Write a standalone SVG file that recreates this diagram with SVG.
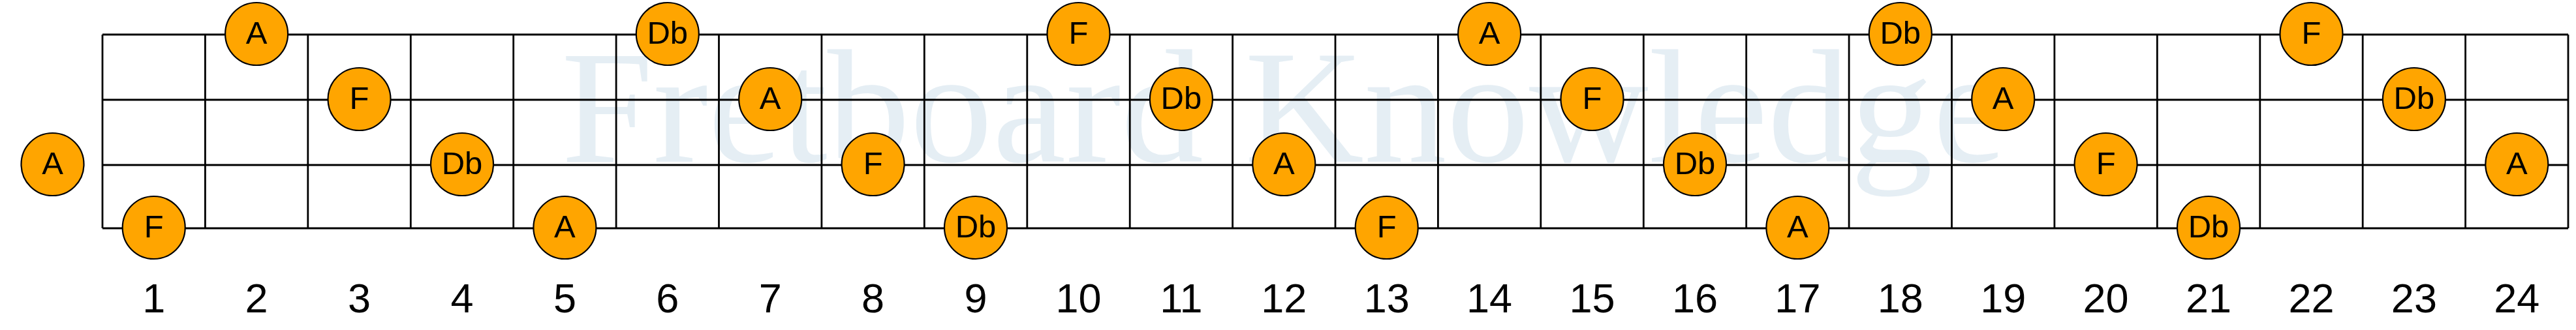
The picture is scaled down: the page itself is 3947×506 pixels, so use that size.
<svg xmlns="http://www.w3.org/2000/svg" width="3947" height="506" viewBox="0 0 3947 506">
<style>
.wm{font-family:"Liberation Serif","Times New Roman",serif;font-size:247px;fill:#e5eef4}
.ln{stroke:#000;stroke-width:2.8;fill:none}
.nc{fill:#ffa500;stroke:#000;stroke-width:2.2}
.nt{font-family:"Liberation Sans",Arial,sans-serif;font-size:49px;fill:#000;text-anchor:middle}
.fn{font-family:"Liberation Sans",Arial,sans-serif;font-size:63px;fill:#000;text-anchor:middle}
</style>
<rect width="3947" height="506" fill="#fff"/>
<text class="wm" x="860" y="248" textLength="2214" lengthAdjust="spacingAndGlyphs">Fretboard Knowledge</text>
<g id="connectors">
<path class="ln" d="M157 53H3935M157 153H3935M157 253H3935M157 350H3935"/>
<path class="ln" d="M157 53V350M314.4 53V350M471.8 53V350M629.3 53V350M786.7 53V350M944.1 53V350M1101.5 53V350M1258.9 53V350M1416.3 53V350M1573.8 53V350M1731.2 53V350M1888.6 53V350M2046 53V350M2203.4 53V350M2360.8 53V350M2518.3 53V350M2675.7 53V350M2833.1 53V350M2990.5 53V350M3147.9 53V350M3305.3 53V350M3462.8 53V350M3620.2 53V350M3777.6 53V350M3935 53V350"/>
</g>
<g id="n-open-A"><circle class="nc" cx="80.5" cy="252" r="48"/><text class="nt" x="80.5" y="267">A</text></g>
<g id="n-s1-2"><circle class="nc" cx="393.1" cy="52" r="48"/><text class="nt" x="393.1" y="67">A</text></g>
<g id="n-s1-6"><circle class="nc" cx="1022.8" cy="52" r="48"/><text class="nt" x="1022.8" y="67">Db</text></g>
<g id="n-s1-10"><circle class="nc" cx="1652.5" cy="52" r="48"/><text class="nt" x="1652.5" y="67">F</text></g>
<g id="n-s1-14"><circle class="nc" cx="2282.1" cy="52" r="48"/><text class="nt" x="2282.1" y="67">A</text></g>
<g id="n-s1-18"><circle class="nc" cx="2911.8" cy="52" r="48"/><text class="nt" x="2911.8" y="67">Db</text></g>
<g id="n-s1-22"><circle class="nc" cx="3541.5" cy="52" r="48"/><text class="nt" x="3541.5" y="67">F</text></g>
<g id="n-s2-3"><circle class="nc" cx="550.5" cy="152" r="48"/><text class="nt" x="550.5" y="167">F</text></g>
<g id="n-s2-7"><circle class="nc" cx="1180.2" cy="152" r="48"/><text class="nt" x="1180.2" y="167">A</text></g>
<g id="n-s2-11"><circle class="nc" cx="1809.9" cy="152" r="48"/><text class="nt" x="1809.9" y="167">Db</text></g>
<g id="n-s2-15"><circle class="nc" cx="2439.5" cy="152" r="48"/><text class="nt" x="2439.5" y="167">F</text></g>
<g id="n-s2-19"><circle class="nc" cx="3069.2" cy="152" r="48"/><text class="nt" x="3069.2" y="167">A</text></g>
<g id="n-s2-23"><circle class="nc" cx="3698.9" cy="152" r="48"/><text class="nt" x="3698.9" y="167">Db</text></g>
<g id="n-s3-4"><circle class="nc" cx="708" cy="252" r="48"/><text class="nt" x="708" y="267">Db</text></g>
<g id="n-s3-8"><circle class="nc" cx="1337.6" cy="252" r="48"/><text class="nt" x="1337.6" y="267">F</text></g>
<g id="n-s3-12"><circle class="nc" cx="1967.3" cy="252" r="48"/><text class="nt" x="1967.3" y="267">A</text></g>
<g id="n-s3-16"><circle class="nc" cx="2597" cy="252" r="48"/><text class="nt" x="2597" y="267">Db</text></g>
<g id="n-s3-20"><circle class="nc" cx="3226.6" cy="252" r="48"/><text class="nt" x="3226.6" y="267">F</text></g>
<g id="n-s3-24"><circle class="nc" cx="3856.3" cy="252" r="48"/><text class="nt" x="3856.3" y="267">A</text></g>
<g id="n-s4-1"><circle class="nc" cx="235.7" cy="349" r="48"/><text class="nt" x="235.7" y="364">F</text></g>
<g id="n-s4-5"><circle class="nc" cx="865.4" cy="349" r="48"/><text class="nt" x="865.4" y="364">A</text></g>
<g id="n-s4-9"><circle class="nc" cx="1495" cy="349" r="48"/><text class="nt" x="1495" y="364">Db</text></g>
<g id="n-s4-13"><circle class="nc" cx="2124.7" cy="349" r="48"/><text class="nt" x="2124.7" y="364">F</text></g>
<g id="n-s4-17"><circle class="nc" cx="2754.4" cy="349" r="48"/><text class="nt" x="2754.4" y="364">A</text></g>
<g id="n-s4-21"><circle class="nc" cx="3384" cy="349" r="48"/><text class="nt" x="3384" y="364">Db</text></g>
<g id="fret-numbers">
<text class="fn" x="235.7" y="479">1</text>
<text class="fn" x="393.1" y="479">2</text>
<text class="fn" x="550.5" y="479">3</text>
<text class="fn" x="708" y="479">4</text>
<text class="fn" x="865.4" y="479">5</text>
<text class="fn" x="1022.8" y="479">6</text>
<text class="fn" x="1180.2" y="479">7</text>
<text class="fn" x="1337.6" y="479">8</text>
<text class="fn" x="1495" y="479">9</text>
<text class="fn" x="1652.5" y="479">10</text>
<text class="fn" x="1809.9" y="479">11</text>
<text class="fn" x="1967.3" y="479">12</text>
<text class="fn" x="2124.7" y="479">13</text>
<text class="fn" x="2282.1" y="479">14</text>
<text class="fn" x="2439.5" y="479">15</text>
<text class="fn" x="2597" y="479">16</text>
<text class="fn" x="2754.4" y="479">17</text>
<text class="fn" x="2911.8" y="479">18</text>
<text class="fn" x="3069.2" y="479">19</text>
<text class="fn" x="3226.6" y="479">20</text>
<text class="fn" x="3384" y="479">21</text>
<text class="fn" x="3541.5" y="479">22</text>
<text class="fn" x="3698.9" y="479">23</text>
<text class="fn" x="3856.3" y="479">24</text>
</g>
</svg>
